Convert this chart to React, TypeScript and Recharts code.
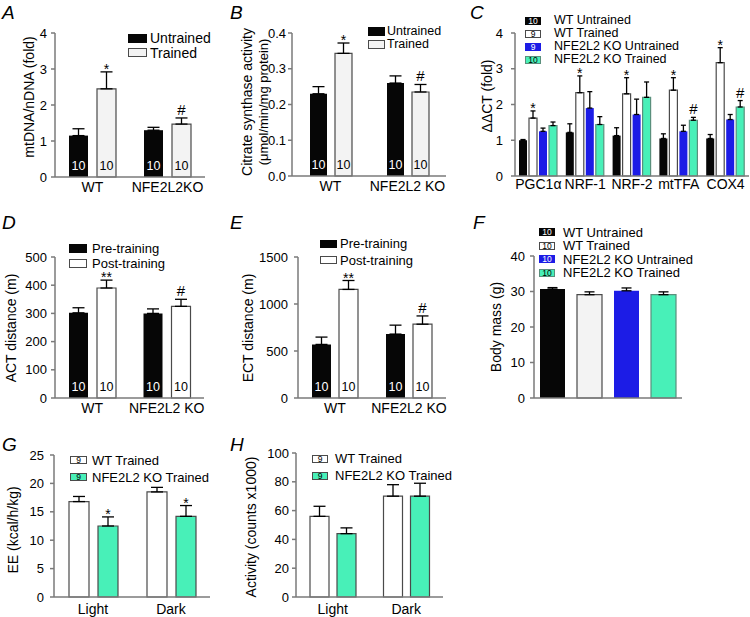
import React from 'react';
import { BarChart, Bar, XAxis, YAxis, ErrorBar, LabelList, Cell } from 'recharts';

const FONT = '"Liberation Sans", Arial, Helvetica, sans-serif';
const W = 750;
const H = 617;
const AXIS = '#7a7a7a';
const BLACK = '#060606';
const LIGHT = '#f3f3f3';
const WHITE = '#ffffff';
const BLUE = '#1c1ce6';
const GREEN = '#48f0b8';
const EDGE = '#4a4a4a';

// A: mtDNA/nDNA
const A_CATS = ['WT', 'NFE2L2KO'];
const A_UNTR = [1.15, 1.3];
const A_UNTR_SE = [0.19, 0.08];
const A_TR = [2.45, 1.47];
const A_TR_SE = [0.47, 0.17];
const A_TR_SIG = ['*', '#'];
const A_N = ['10', '10'];

// B: citrate synthase
const B_CATS = ['WT', 'NFE2L2 KO'];
const B_UNTR = [0.23, 0.26];
const B_UNTR_SE = [0.02, 0.02];
const B_TR = [0.343, 0.235];
const B_TR_SE = [0.029, 0.021];
const B_TR_SIG = ['*', '#'];
const B_N = ['10', '10'];

// C: gene expression
const C_GENES = ['PGC1α', 'NRF-1', 'NRF-2', 'mtTFA', 'COX4'];
const C_WT_U = [1.0, 1.22, 1.13, 1.05, 1.05];
const C_WT_U_SE = [0.02, 0.24, 0.22, 0.13, 0.11];
const C_WT_T = [1.62, 2.33, 2.3, 2.4, 3.17];
const C_WT_T_SE = [0.2, 0.47, 0.45, 0.35, 0.42];
const C_WT_T_SIG = ['*', '*', '*', '*', '*'];
const C_KO_U = [1.25, 1.9, 1.72, 1.25, 1.58];
const C_KO_U_SE = [0.09, 0.46, 0.43, 0.17, 0.14];
const C_KO_T = [1.41, 1.44, 2.2, 1.56, 1.93];
const C_KO_T_SE = [0.1, 0.22, 0.43, 0.08, 0.18];
const C_KO_T_SIG = ['', '', '', '#', '#'];

// D: ACT distance
const D_CATS = ['WT', 'NFE2L2 KO'];
const D_PRE = [302, 300];
const D_PRE_SE = [18, 16];
const D_POST = [390, 325];
const D_POST_SE = [28, 25];
const D_POST_SIG = ['**', '#'];
const D_N = ['10', '10'];

// E: ECT distance
const E_CATS = ['WT', 'NFE2L2 KO'];
const E_PRE = [570, 680];
const E_PRE_SE = [78, 95];
const E_POST = [1155, 785];
const E_POST_SE = [95, 88];
const E_POST_SIG = ['**', '#'];
const E_N = ['10', '10'];

// F: body mass
const F_GROUPS = ['WT Untrained', 'WT Trained', 'NFE2L2 KO Untrained', 'NFE2L2 KO Trained'];
const F_MASS = [30.7, 29.1, 30.2, 29.1];
const F_MASS_SE = [0.4, 0.8, 0.8, 0.8];

// G: energy expenditure
const G_CATS = ['Light', 'Dark'];
const G_WT = [16.8, 18.5];
const G_WT_SE = [0.9, 0.8];
const G_KO = [12.5, 14.2];
const G_KO_SE = [1.6, 1.9];
const G_KO_SIG = ['*', '*'];

// H: activity
const H_CATS = ['Light', 'Dark'];
const H_WT = [56, 70];
const H_WT_SE = [7, 8];
const H_KO = [44, 70];
const H_KO_SE = [4, 9];

interface SeriesIn { v: number[]; se: number[]; n?: string[]; sig?: string[] }
interface BarStyle { fill: string; stroke?: string; nColor?: string }

function makeRows(cats: string[], series: SeriesIn[]) {
  return cats.map((cat, i) => {
    const row: Record<string, any> = { cat };
    series.forEach((s, k) => {
      row[`s${k}`] = s.v[i];
      row[`s${k}Err`] = [0, s.se[i]];
      row[`s${k}N`] = s.n ? s.n[i] : '';
      row[`s${k}Sig`] = s.sig ? s.sig[i] : '';
    });
    return row;
  });
}

const sigLabel = (rows: Record<string, any>[], k: number) => (p: any) => {
  const row = rows[p.index];
  if (!row || !row[`s${k}Sig`]) return null;
  const vb = p.viewBox ?? p;
  const sig = row[`s${k}Sig`];
  const top = vb.y - (vb.height / row[`s${k}`]) * row[`s${k}Err`][1];
  const hash = sig === '#';
  return (
    <text x={vb.x + vb.width / 2} y={hash ? top - 3 : top + 2} textAnchor="middle"
      fontSize={hash ? 15 : 14} fill="#000">{sig}</text>
  );
};

const nLabel = (color: string) => (p: any) => {
  if (!p.value) return null;
  const vb = p.viewBox ?? p;
  return (
    <text x={vb.x + vb.width / 2} y={vb.y + vb.height - 7} textAnchor="middle"
      fontSize={12.5} fill={color}>{p.value}</text>
  );
};

interface PanelProps {
  plot: { x: number; y: number; w: number; h: number };
  rows: Record<string, any>[];
  styles: BarStyle[];
  cells?: BarStyle[];
  domain: [number, number];
  ticks: number[];
  fmt?: (v: number) => string;
  barSize: number;
  barGap?: number;
  cap: number;
  tickMargin: number;
  xTickMargin?: number;
  xLabels?: boolean;
  yLabel: { lines: string[]; xs: number[]; y: number; sizes: number[] };
}

function Panel(props: PanelProps) {
  const { plot, rows, styles, cells, domain, ticks, fmt, barSize, barGap = 4, cap, tickMargin, xTickMargin = 5, xLabels = true, yLabel } = props;
  const margin = {
    top: plot.y,
    left: plot.x - 40,
    right: W - plot.x - plot.w,
    bottom: H - plot.y - plot.h - 18,
  };
  const yLab = () => (
    <g>
      {yLabel.lines.map((t, i) => (
        <text key={i} x={yLabel.xs[i]} y={yLabel.y} transform={`rotate(-90 ${yLabel.xs[i]} ${yLabel.y})`}
          textAnchor="middle" dominantBaseline="central" fontSize={yLabel.sizes[i]} fill="#000">{t}</text>
      ))}
    </g>
  );
  return (
    <div style={{ position: 'absolute', left: 0, top: 0 }}>
      <BarChart width={W} height={H} data={rows} margin={margin} barSize={barSize} barGap={barGap}>
        <XAxis dataKey="cat" height={18} interval={0} tickLine={false} tickSize={0} tickMargin={xTickMargin}
          tick={xLabels ? { fill: '#000', fontSize: 14 } : false}
          axisLine={{ stroke: AXIS, strokeWidth: 1.5 }} />
        <YAxis width={40} domain={domain} ticks={ticks} tickFormatter={fmt} interval={0}
          tick={{ fill: '#000', fontSize: 13 }} tickSize={4} tickMargin={tickMargin}
          tickLine={{ stroke: AXIS, strokeWidth: 1.5 }} axisLine={{ stroke: AXIS, strokeWidth: 1.5 }}
          label={yLab} />
        {styles.map((s, k) => (
          <Bar key={k} dataKey={`s${k}`} fill={s.fill} stroke={s.stroke ?? 'none'} strokeWidth={1.2}
            isAnimationActive={false}>
            {cells && rows.map((_, i) => (
              <Cell key={i} fill={cells[i].fill} stroke={cells[i].stroke ?? 'none'} />
            ))}
            <ErrorBar dataKey={`s${k}Err`} width={cap} stroke="#000" strokeWidth={1.3} direction="y" />
            <LabelList dataKey={`s${k}N`} content={nLabel(s.nColor ?? '#000')} />
            <LabelList dataKey={`s${k}Sig`} content={sigLabel(rows, k)} />
          </Bar>
        ))}
      </BarChart>
    </div>
  );
}

interface LegendItem { label: string; fill: string; stroke?: string; n?: string; nColor?: string }

function Key({ x, ys, items, boxW, boxH, gap, fontSize }: {
  x: number; ys: number[]; items: LegendItem[]; boxW: number; boxH: number; gap: number; fontSize: number;
}) {
  return (
    <>
      {items.map((it, i) => (
        <div key={i} style={{ position: 'absolute', left: x, top: ys[i] - 7, height: 14, display: 'flex', alignItems: 'center', whiteSpace: 'nowrap' }}>
          <div style={{
            width: boxW, height: boxH, boxSizing: 'border-box', background: it.fill,
            border: `1px solid ${it.stroke ?? it.fill}`, color: it.nColor ?? '#000',
            fontSize: 8.5, lineHeight: `${boxH - 2}px`, textAlign: 'center',
          }}>{it.n ?? ''}</div>
          <span style={{ marginLeft: gap, fontSize, lineHeight: 1, color: '#000' }}>{it.label}</span>
        </div>
      ))}
    </>
  );
}

function Letter({ x, y, t }: { x: number; y: number; t: string }) {
  return <div style={{ position: 'absolute', left: x, top: y, fontSize: 19, lineHeight: 1, fontStyle: 'italic' }}>{t}</div>;
}

export default function App() {
  const rowsA = makeRows(A_CATS, [{ v: A_UNTR, se: A_UNTR_SE, n: A_N }, { v: A_TR, se: A_TR_SE, n: A_N, sig: A_TR_SIG }]);
  const rowsB = makeRows(B_CATS, [{ v: B_UNTR, se: B_UNTR_SE, n: B_N }, { v: B_TR, se: B_TR_SE, n: B_N, sig: B_TR_SIG }]);
  const rowsC = makeRows(C_GENES, [
    { v: C_WT_U, se: C_WT_U_SE },
    { v: C_WT_T, se: C_WT_T_SE, sig: C_WT_T_SIG },
    { v: C_KO_U, se: C_KO_U_SE },
    { v: C_KO_T, se: C_KO_T_SE, sig: C_KO_T_SIG },
  ]);
  const rowsD = makeRows(D_CATS, [{ v: D_PRE, se: D_PRE_SE, n: D_N }, { v: D_POST, se: D_POST_SE, n: D_N, sig: D_POST_SIG }]);
  const rowsE = makeRows(E_CATS, [{ v: E_PRE, se: E_PRE_SE, n: E_N }, { v: E_POST, se: E_POST_SE, n: E_N, sig: E_POST_SIG }]);
  const rowsF = makeRows(F_GROUPS, [{ v: F_MASS, se: F_MASS_SE }]);
  const rowsG = makeRows(G_CATS, [{ v: G_WT, se: G_WT_SE }, { v: G_KO, se: G_KO_SE, sig: G_KO_SIG }]);
  const rowsH = makeRows(H_CATS, [{ v: H_WT, se: H_WT_SE }, { v: H_KO, se: H_KO_SE }]);

  const untr: BarStyle = { fill: BLACK, nColor: '#fff' };
  const tr: BarStyle = { fill: LIGHT, stroke: EDGE, nColor: '#000' };
  const post: BarStyle = { fill: WHITE, stroke: EDGE, nColor: '#000' };
  const four: BarStyle[] = [
    { fill: BLACK },
    { fill: WHITE, stroke: EDGE },
    { fill: BLUE },
    { fill: GREEN, stroke: '#5a8f7c' },
  ];
  const fourF: BarStyle[] = [{ fill: BLACK }, { fill: LIGHT, stroke: EDGE }, { fill: BLUE }, { fill: GREEN, stroke: '#5a8f7c' }];

  return (
    <div style={{ position: 'absolute', left: 0, top: 0, width: W, height: H, background: '#fff', fontFamily: FONT, overflow: 'hidden' }}>
      <Panel plot={{ x: 55, y: 33, w: 150, h: 144 }} rows={rowsA} styles={[untr, tr]} domain={[0, 4]} ticks={[0, 1, 2, 3, 4]}
        barSize={19} barGap={9} cap={6} tickMargin={4}
        yLabel={{ lines: ['mtDNA/nDNA (fold)'], xs: [29], y: 97, sizes: [14] }} />
      <Panel plot={{ x: 292, y: 33, w: 154, h: 143 }} rows={rowsB} styles={[untr, tr]} domain={[0, 0.4]} ticks={[0, 0.1, 0.2, 0.3, 0.4]}
        fmt={(v) => v.toFixed(1)} barSize={17} barGap={8} cap={6} tickMargin={2}
        yLabel={{ lines: ['Citrate synthase activity', '(μmol/min/mg protein)'], xs: [247, 263], y: 102, sizes: [14, 13] }} />
      <Panel plot={{ x: 515, y: 33, w: 234, h: 143 }} rows={rowsC} styles={four} domain={[0, 4]} ticks={[0, 1, 2, 3, 4]}
        barSize={8} barGap={2} cap={2.5} tickMargin={8} xTickMargin={3}
        yLabel={{ lines: ['ΔΔCT (fold)'], xs: [487], y: 96, sizes: [14] }} />
      <Panel plot={{ x: 55, y: 257, w: 149, h: 141 }} rows={rowsD} styles={[untr, post]} domain={[0, 500]} ticks={[0, 100, 200, 300, 400, 500]}
        barSize={19} barGap={9} cap={6} tickMargin={4}
        yLabel={{ lines: ['ACT distance (m)'], xs: [11], y: 328, sizes: [14] }} />
      <Panel plot={{ x: 298, y: 257, w: 148, h: 141 }} rows={rowsE} styles={[untr, post]} domain={[0, 1500]} ticks={[0, 500, 1000, 1500]}
        barSize={19} barGap={8} cap={6} tickMargin={6}
        yLabel={{ lines: ['ECT distance (m)'], xs: [248], y: 328, sizes: [14] }} />
      <Panel plot={{ x: 534, y: 256, w: 148, h: 142 }} rows={rowsF} styles={[{ fill: BLACK }]} cells={fourF} domain={[0, 40]} ticks={[0, 10, 20, 30, 40]}
        barSize={25} cap={5} tickMargin={5} xLabels={false}
        yLabel={{ lines: ['Body mass (g)'], xs: [496], y: 327, sizes: [14] }} />
      <Panel plot={{ x: 54, y: 455, w: 156, h: 142 }} rows={rowsG} styles={[post, { fill: GREEN, stroke: EDGE }]} domain={[0, 25]} ticks={[0, 5, 10, 15, 20, 25]}
        barSize={20} barGap={9} cap={6} tickMargin={6} xTickMargin={7}
        yLabel={{ lines: ['EE (kcal/h/kg)'], xs: [13], y: 530, sizes: [14] }} />
      <Panel plot={{ x: 296, y: 453, w: 147, h: 144 }} rows={rowsH} styles={[post, { fill: GREEN, stroke: EDGE }]} domain={[0, 100]} ticks={[0, 20, 40, 60, 80, 100]}
        barSize={19} barGap={8} cap={6} tickMargin={3} xTickMargin={7}
        yLabel={{ lines: ['Activity (counts x1000)'], xs: [251], y: 527, sizes: [14] }} />

      <Key x={128} ys={[38, 52.5]} boxW={19} boxH={9} gap={3} fontSize={14}
        items={[{ label: 'Untrained', fill: BLACK }, { label: 'Trained', fill: LIGHT, stroke: EDGE }]} />
      <Key x={368} ys={[31.5, 44.5]} boxW={17} boxH={9} gap={2} fontSize={12.5}
        items={[{ label: 'Untrained', fill: BLACK }, { label: 'Trained', fill: LIGHT, stroke: EDGE }]} />
      <Key x={525} ys={[20.5, 33.5, 46.5, 59.5]} boxW={16} boxH={8} gap={13} fontSize={12.5}
        items={[
          { label: 'WT Untrained', fill: BLACK, n: '10', nColor: '#fff' },
          { label: 'WT Trained', fill: WHITE, stroke: EDGE, n: '9' },
          { label: 'NFE2L2 KO Untrained', fill: BLUE, n: '9', nColor: '#fff' },
          { label: 'NFE2L2 KO Trained', fill: GREEN, stroke: '#5a8f7c', n: '10' },
        ]} />
      <Key x={69} ys={[248, 263]} boxW={18} boxH={9} gap={5} fontSize={13}
        items={[{ label: 'Pre-training', fill: BLACK }, { label: 'Post-training', fill: WHITE, stroke: EDGE }]} />
      <Key x={320} ys={[243.5, 260]} boxW={17} boxH={8} gap={3} fontSize={13}
        items={[{ label: 'Pre-training', fill: BLACK }, { label: 'Post-training', fill: WHITE, stroke: EDGE }]} />
      <Key x={539} ys={[232, 245.5, 259, 272.5]} boxW={16} boxH={8} gap={8} fontSize={13}
        items={[
          { label: 'WT Untrained', fill: BLACK, n: '10', nColor: '#fff' },
          { label: 'WT Trained', fill: WHITE, stroke: EDGE, n: '10' },
          { label: 'NFE2L2 KO Untrained', fill: BLUE, n: '10', nColor: '#fff' },
          { label: 'NFE2L2 KO Trained', fill: GREEN, stroke: '#5a8f7c', n: '10' },
        ]} />
      <Key x={70} ys={[460, 477]} boxW={17} boxH={8} gap={5} fontSize={13}
        items={[{ label: 'WT Trained', fill: WHITE, stroke: EDGE, n: '9' }, { label: 'NFE2L2 KO Trained', fill: GREEN, stroke: EDGE, n: '9' }]} />
      <Key x={312} ys={[458.5, 475.5]} boxW={16} boxH={8} gap={7} fontSize={13}
        items={[{ label: 'WT Trained', fill: WHITE, stroke: EDGE, n: '9' }, { label: 'NFE2L2 KO Trained', fill: GREEN, stroke: EDGE, n: '9' }]} />

      <Letter x={2} y={3} t="A" />
      <Letter x={230} y={3} t="B" />
      <Letter x={470} y={3} t="C" />
      <Letter x={2} y={213} t="D" />
      <Letter x={230} y={213} t="E" />
      <Letter x={473} y={213} t="F" />
      <Letter x={2} y={435} t="G" />
      <Letter x={230} y={435} t="H" />
    </div>
  );
}
